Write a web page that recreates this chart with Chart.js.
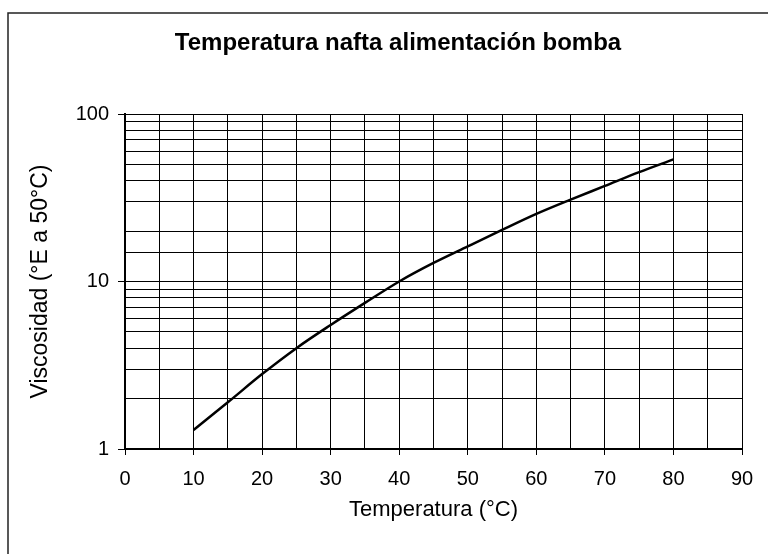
<!DOCTYPE html>
<html>
<head>
<meta charset="utf-8">
<title>Temperatura nafta alimentación bomba</title>
<script src="https://cdn.jsdelivr.net/npm/chart.js@4/dist/chart.umd.min.js"></script>
<style>
  html, body { margin: 0; padding: 0; background: #fff; overflow: hidden; }
  #viscChart { display: block; }
</style>
</head>
<body>
<canvas id="viscChart" width="768" height="554"></canvas>
<script>
// Viscosity of the pump feed naphtha vs temperature
const TITLE = 'Temperatura nafta alimentación bomba';
const X_TITLE = 'Temperatura (°C)';
const Y_TITLE = 'Viscosidad (°E a 50°C)';

const temperatures = [10, 15, 20, 25, 30, 35, 40, 45, 50, 55, 60, 65, 70, 75, 80];
const viscosity = [1.3, 1.9, 2.8, 4.0, 5.5, 7.45, 10, 12.9, 16.2, 20.3, 25.3, 30.8, 37.2, 45, 53.6];

const X_MIN = 0;
const X_MAX = 90;
const X_STEP = 5;
const Y_MIN = 1;
const Y_MAX = 100;
const Y_LABELS = [1, 10, 100];

const FONT = "'Liberation Sans', Arial, sans-serif";
const INK = '#000';

const isDecade = (v) => Y_LABELS.includes(v);
const isTen = (v) => v % 10 === 0;

// Frame around the chart and the centred heading
const framePlugin = {
    id: 'frame',
    beforeDraw(chart) {
        const ctx = chart.ctx;
        ctx.save();
        ctx.strokeStyle = '#222';
        ctx.lineWidth = 1.5;
        ctx.beginPath();
        ctx.moveTo(8, chart.height + 5);
        ctx.lineTo(8, 13);
        ctx.lineTo(chart.width + 5, 13);
        ctx.stroke();
        ctx.restore();
    },
    afterDraw(chart) {
        const ctx = chart.ctx;
        ctx.save();
        ctx.fillStyle = INK;
        ctx.font = 'bold 24px ' + FONT;
        ctx.textAlign = 'center';
        ctx.textBaseline = 'middle';
        ctx.fillText(TITLE, 398, 43);
        ctx.restore();
    }
};

const points = temperatures.map((t, i) => ({ x: t, y: viscosity[i] }));

new Chart(document.getElementById('viscChart'), {
    type: 'line',
    data: {
        datasets: [{
            data: points,
            borderColor: INK,
            borderWidth: 2.5,
            pointRadius: 0,
            cubicInterpolationMode: 'monotone',
            fill: false
        }]
    },
    options: {
        responsive: false,
        animation: false,
        layout: {
            padding: { top: 114, right: 26, bottom: 0, left: 0 }
        },
        plugins: {
            legend: { display: false },
            title: { display: false },
            tooltip: { enabled: false }
        },
        scales: {
            x: {
                type: 'linear',
                min: X_MIN,
                max: X_MAX,
                afterFit: (scale) => { scale.height = 105; },
                border: { color: INK, width: 2 },
                grid: {
                    color: INK,
                    lineWidth: 1,
                    tickLength: 6,
                    tickColor: (ctx) => (ctx.tick && isTen(ctx.tick.value) ? INK : 'rgba(0,0,0,0)')
                },
                ticks: {
                    stepSize: X_STEP,
                    autoSkip: false,
                    maxRotation: 0,
                    padding: 12,
                    color: INK,
                    font: { family: FONT, size: 20 },
                    callback: (value) => (isTen(value) ? String(value) : '')
                },
                title: {
                    display: true,
                    text: X_TITLE,
                    color: INK,
                    font: { family: FONT, size: 22 },
                    padding: { top: 0, bottom: 31 }
                }
            },
            y: {
                type: 'logarithmic',
                min: Y_MIN,
                max: Y_MAX,
                afterFit: (scale) => { scale.width = 125; },
                border: { color: INK, width: 2 },
                grid: {
                    color: INK,
                    lineWidth: 1,
                    tickLength: 7,
                    tickColor: (ctx) => (ctx.tick && isDecade(ctx.tick.value) ? INK : 'rgba(0,0,0,0)')
                },
                ticks: {
                    autoSkip: false,
                    padding: 9,
                    color: INK,
                    font: { family: FONT, size: 20 },
                    callback: (value) => (isDecade(value) ? String(value) : '')
                },
                title: {
                    display: true,
                    text: Y_TITLE,
                    color: INK,
                    font: { family: FONT, size: 23 },
                    padding: { top: 27, bottom: 0 }
                }
            }
        }
    },
    plugins: [framePlugin]
});
</script>
</body>
</html>
